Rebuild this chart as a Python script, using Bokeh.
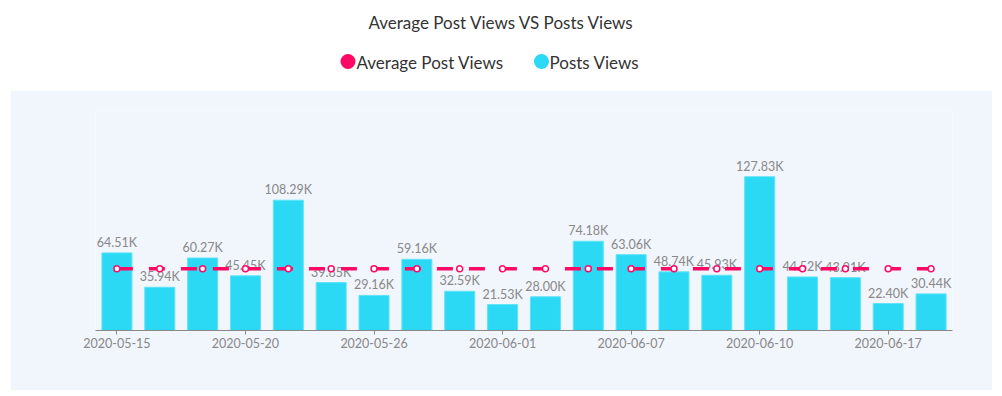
from bokeh.plotting import figure
from bokeh.models import ColumnDataSource, Range1d, FixedTicker
from bokeh.layouts import column
from bokeh.core.properties import value
from bokeh.embed import file_html
from bokeh.resources import INLINE

# ---------------- data ----------------
dates = ["2020-05-15", "2020-05-17", "2020-05-18", "2020-05-20", "2020-05-22",
         "2020-05-24", "2020-05-26", "2020-05-28", "2020-05-30", "2020-06-01",
         "2020-06-03", "2020-06-05", "2020-06-07", "2020-06-08", "2020-06-09",
         "2020-06-10", "2020-06-12", "2020-06-14", "2020-06-17", "2020-06-18"]
post_views = [64510, 35940, 60270, 45450, 108290, 39850, 29160, 59160, 32590, 21530,
              28000, 74180, 63060, 48740, 45930, 127830, 44520, 43910, 22400, 30440]
avg_views = [51290] * 20
shown_ticks = [0, 3, 6, 9, 12, 15, 18]
title_text = "Average Post Views VS Posts Views"
legend_labels = ["Average Post Views", "Posts Views"]

PINK = "#fe0a66"
CYAN = "#2bd9f5"
PANEL = "#f1f5fc"
FONT = "Lato"

def fmt(v):
    return "%.2fK" % (v / 1000.0)

idx = list(range(len(dates)))
src = ColumnDataSource(dict(x=idx, v=post_views, avg=avg_views,
                            lbl=[fmt(v) for v in post_views]))

# ---------------- header (title + legend) ----------------
# frame aligned with the chart frame below (page x 93..954)
top = figure(width=986, height=82, x_range=Range1d(93, 954), y_range=Range1d(90, 8),
             output_backend="svg", toolbar_location=None,
             min_border_left=85, min_border_right=40, min_border_top=0, min_border_bottom=0,
             x_axis_location=None, y_axis_location=None)
top.grid.visible = False
top.outline_line_color = None
top.background_fill_color = "white"
top.border_fill_color = "white"

top.text(x=[501], y=[22], text=[title_text], text_align="center", text_baseline="middle",
         text_font=value(FONT), text_font_size="17px", text_color="#333333")
top.scatter(x=[347.5, 541], y=[61, 61], size=15, color=[PINK, CYAN], line_color=None)
top.text(x=[356, 549], y=[62, 62], text=legend_labels, text_align="left", text_baseline="middle",
         text_font=value(FONT), text_font_size="17px", text_color="#333333")

# ---------------- main chart ----------------
p = figure(width=982, height=300, x_range=Range1d(-0.5, len(dates) - 0.5),
           y_range=Range1d(0, 182900), output_backend="svg", toolbar_location=None,
           min_border_left=83, min_border_right=38, min_border_top=20, min_border_bottom=60,
           y_axis_location=None)
p.margin = (0, 0, 0, 2)
p.grid.visible = False
p.outline_line_color = None
p.background_fill_color = PANEL
p.border_fill_color = PANEL

p.vbar(x="x", top="v", width=0.7, source=src, fill_color=CYAN, line_color="#5ce4f8", line_width=1)
p.text(x="x", y="v", text="lbl", source=src, text_align="center", text_baseline="bottom",
       y_offset=-3, text_font=value(FONT), text_font_size="12.5px", text_color="#888888")

p.line(x="x", y="avg", source=src, line_color=PINK, line_width=3.5, line_dash="16 16")
p.scatter(x="x", y="avg", source=src, marker="circle", size=6, fill_color="white",
          line_color=PINK, line_width=1.5)

ax = p.xaxis[0]
ax.ticker = FixedTicker(ticks=shown_ticks)
ax.major_label_overrides = {i: dates[i] for i in shown_ticks}
ax.axis_line_color = "#888888"
ax.major_tick_line_color = "#888888"
ax.major_tick_in = 0
ax.major_tick_out = 4
ax.minor_tick_line_color = None
ax.major_label_standoff = 3
ax.major_label_text_font = FONT
ax.major_label_text_font_size = "12.5px"
ax.major_label_text_color = "#888888"

layout = column(top, p, spacing=0, margin=(8, 0, 0, 8))
open("out.html", "w").write(file_html(layout, INLINE))
